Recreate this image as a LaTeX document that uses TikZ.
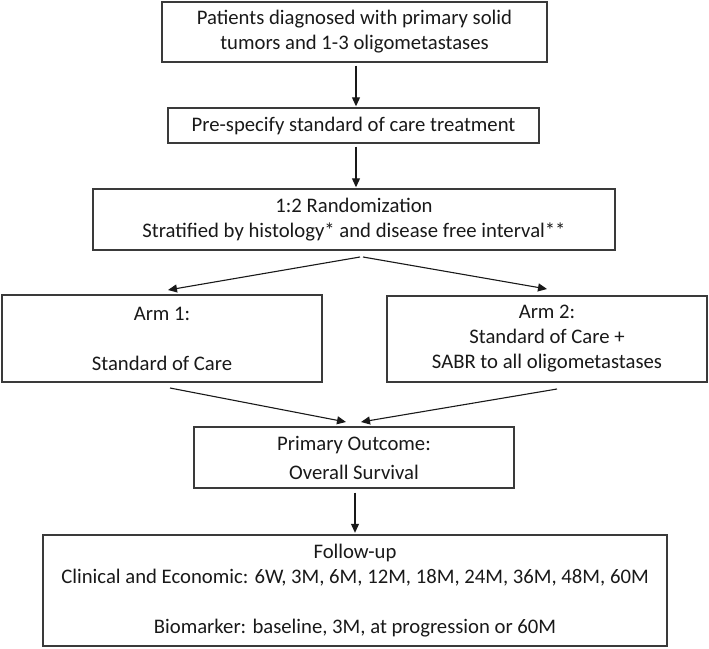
\documentclass[tikz,border=0pt]{standalone}
\usepackage{fontspec}
\setmainfont{Carlito}
\usetikzlibrary{arrows.meta,calc}
\definecolor{edge}{HTML}{3A3A3A}
\begin{document}
\begin{tikzpicture}[x=1pt,y=-1pt,
  box/.style={draw=edge,line width=1.4pt,rectangle,inner sep=0pt,align=center,
    font=\fontsize{20.7}{25}\selectfont,text=black!90},
  arr/.style={draw=black!90,line width=1.1pt,-{Triangle[length=9pt,width=8pt]}}]
\useasboundingbox (0,0) rectangle (709,648);
\node[box,minimum width=385pt,minimum height=60pt] (b1) at (354.5,32)
  {Patients diagnosed with primary solid\\tumors and 1-3 oligometastases};
\node[box,minimum width=371pt,minimum height=35pt] (b2) at (353.5,125.5)
  {Pre-specify standard of care treatment};
\node[box,minimum width=522pt,minimum height=61pt] (b3) at (354,219.5)
  {1:2 Randomization\\Stratified by histology* and disease free interval**};
\node[box,minimum width=320pt,minimum height=87pt] (a1) at (162,338.5)
  {Arm 1:\\\mbox{}\\Standard of Care};
\node[box,minimum width=320pt,minimum height=86pt] (a2) at (547,339)
  {Arm 2:\\Standard of Care +\\SABR to all oligometastases};
\node[box,minimum width=320pt,minimum height=61pt,font=\fontsize{20.7}{29}\selectfont] (po) at (354,457.5)
  {Primary Outcome:\\Overall Survival};
\node[box,minimum width=624pt,minimum height=111pt] (fu) at (355,590.5)
  {Follow-up\\Clinical and Economic: 6W, 3M, 6M, 12M, 18M, 24M, 36M, 48M, 60M\\\mbox{}\\Biomarker: baseline, 3M, at progression or 60M};
\coordinate (s3a) at (360,257);
\coordinate (s3b) at (363,257);
\coordinate (t1) at (168,290);
\coordinate (t2) at (547,289);
\coordinate (s1) at (170,388);
\coordinate (s2) at (557,389);
\coordinate (tp1) at (346,422);
\coordinate (tp2) at (361,422);
\draw[arr] ($(b1.south)+(1.5,3)$) -- ($(b2.north)+(2.5,-1)$);
\draw[arr] ($(b2.south)+(2.5,3)$) -- ($(b3.north)+(2,-1)$);
\draw[arr] (s3a) -- (t1);
\draw[arr] (s3b) -- (t2);
\draw[arr] (s1) -- (tp1);
\draw[arr] (s2) -- (tp2);
\draw[arr] ($(po.south)+(1,4)$) -- ($(fu.north)+(0,-1.5)$);
\end{tikzpicture}
\end{document}
